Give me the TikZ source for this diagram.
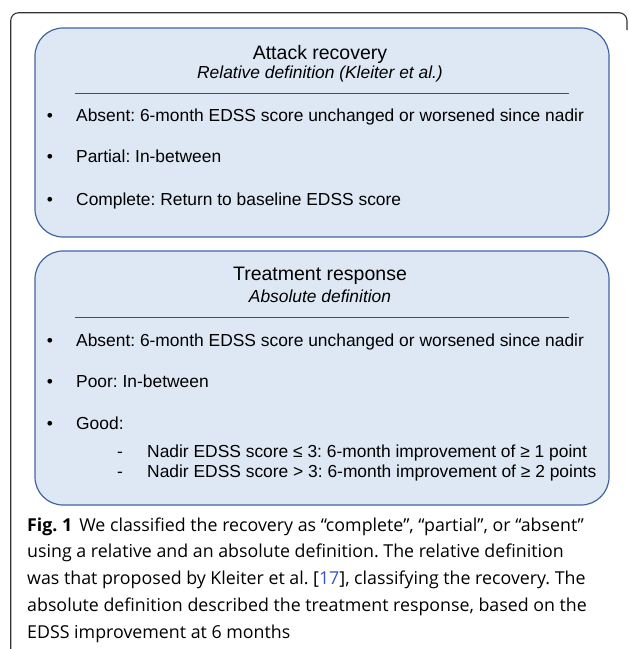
\documentclass[tikz,border=0pt]{standalone}
\usepackage{fontspec}
\setmainfont{Liberation Sans}
\newfontfamily\capfont{Open Sans}
\usetikzlibrary{positioning}
\frenchspacing

\definecolor{panelfill}{HTML}{DEE8F4}
\definecolor{paneldraw}{HTML}{40659E}
\definecolor{citeblue}{HTML}{3355CC}

\begin{document}
\begin{tikzpicture}[x=1pt, y=-1pt,
    panel/.style={draw=paneldraw, fill=panelfill, line width=1.2pt, rounded corners=28pt, minimum width=574pt},
    heading/.style={font=\fontsize{19.5}{23}\selectfont, anchor=base, inner sep=0pt},
    subheading/.style={font=\fontsize{17.4}{20}\selectfont\itshape, anchor=base, inner sep=0pt},
    bullet/.style={font=\fontsize{17.4}{20}\selectfont, anchor=base, inner sep=0pt},
    item/.style={font=\fontsize{17.4}{20}\selectfont, anchor=base west, inner sep=0pt},
    caption/.style={font=\capfont\fontsize{17.8}{26.7}\selectfont, align=left, anchor=base west, inner sep=0pt}]
    \useasboundingbox (0,0) rectangle (629,649);

    % outer frame
    \draw[line width=1.1pt, black!80, rounded corners=8pt] (10.7,649) -- (10.7,12.7) -- (627,12.7) -- (627,30);

    % Attack recovery panel
    \node[panel, minimum height=209pt] (attack) at (322,132.5) {};
    \node[heading] (attacktitle) at (320,59) {Attack recovery};
    \node[subheading] (attacksub) at (320,78) {Relative definition (Kleiter et al.)};
    \draw[black!70, line width=0.9pt] (75,93) -- (569,93);
    \node[bullet] (a1) at (50,121) {•};
    \node[item] (absent1) at (76,121) {Absent: 6-month EDSS score unchanged or worsened since nadir};
    \node[bullet] (a2) at (50,162.5) {•};
    \node[item] (partial) at (76,162.5) {Partial: In-between};
    \node[bullet] (a3) at (50,205.5) {•};
    \node[item] (complete) at (76,205.5) {Complete: Return to baseline EDSS score};

    % Treatment response panel
    \node[panel, minimum height=254pt] (treat) at (322,378) {};
    \node[heading] (treattitle) at (320,280.7) {Treatment response};
    \node[subheading] (treatsub) at (320,302.7) {Absolute definition};
    \draw[black!70, line width=0.9pt] (75,317.7) -- (569,317.7);
    \node[bullet] (t1) at (50,346) {•};
    \node[item] (absent2) at (76,346) {Absent: 6-month EDSS score unchanged or worsened since nadir};
    \node[bullet] (t2) at (50,387.7) {•};
    \node[item] (poor) at (76,387.7) {Poor: In-between};
    \node[bullet] (t3) at (50,429.3) {•};
    \node[item] (good) at (76,429.3) {Good:};
    \node[bullet] (g1) at (120,457.3) {-};
    \node[item] (low) at (147,457.3) {Nadir EDSS score ≤ 3: 6-month improvement of ≥ 1 point};
    \node[bullet] (g2) at (120,477.3) {-};
    \node[item] (high) at (147,477.3) {Nadir EDSS score > 3: 6-month improvement of ≥ 2 points};

    % caption (anchored on its last line)
    \node[caption] (cap) at (27,638) {\textbf{Fig. 1}\hspace{7pt}We classified the recovery as “complete”, “partial”, or “absent”\\
        using a relative and an absolute definition. The relative definition\\
        was that proposed by Kleiter et al. [\textcolor{citeblue}{17}], classifying the recovery. The\\
        absolute definition described the treatment response, based on the\\
        EDSS improvement at 6 months};
\end{tikzpicture}
\end{document}
